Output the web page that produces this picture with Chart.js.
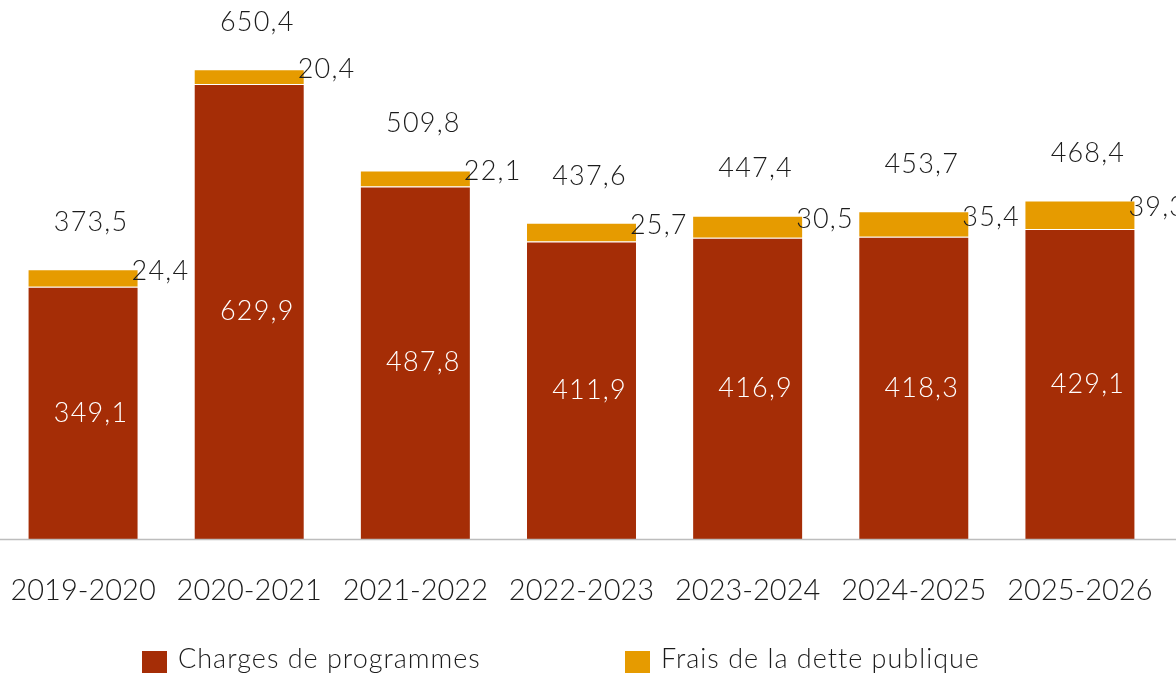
<!DOCTYPE html>
<html lang="fr">
<head>
<meta charset="utf-8">
<title>Charges de programmes et frais de la dette publique</title>
<script src="https://cdn.jsdelivr.net/npm/chart.js@4/dist/chart.umd.min.js"></script>
<style>
  html, body { margin: 0; padding: 0; background: #fff; }
  #wrap { width: 1176px; height: 673px; overflow: hidden; }
</style>
</head>
<body>
<div id="wrap"><canvas id="chart" width="1176" height="673"></canvas></div>
<script>
// data
const annees = ['2019-2020', '2020-2021', '2021-2022', '2022-2023', '2023-2024', '2024-2025', '2025-2026'];
const programmes = [349.1, 629.9, 487.8, 411.9, 416.9, 418.3, 429.1];
const dette = [24.4, 20.4, 22.1, 25.7, 30.5, 35.4, 39.3];
const totaux = [373.5, 650.4, 509.8, 437.6, 447.4, 453.7, 468.4];

const ROUGE = '#a52d06';
const ORANGE = '#e69b00';
const TEXTE = '#1c1c1c';
const FONT = 'Lato, "Open Sans", sans-serif';

const fmt = v => v.toFixed(1).replace('.', ',');

// labels: white in the red bar, debt to the right, total on top
const valueLabels = {
  id: 'valueLabels',
  afterDatasetsDraw(chart) {
    const ctx = chart.ctx;
    const m0 = chart.getDatasetMeta(0);
    const m1 = chart.getDatasetMeta(1);
    ctx.save();
    ctx.font = '300 27px ' + FONT;
    ctx.letterSpacing = '1.2px';
    ctx.textBaseline = 'middle';
    m0.data.forEach((bar, i) => {
      const haut = m1.data[i];
      ctx.fillStyle = '#fff';
      ctx.textAlign = 'center';
      ctx.fillText(fmt(programmes[i]), bar.x + 8, (bar.y + bar.base) / 2);

      ctx.fillStyle = TEXTE;
      ctx.textAlign = 'left';
      ctx.fillText(fmt(dette[i]), haut.x + haut.width / 2 - 7, (haut.y + haut.base) / 2 - 7);

      ctx.textAlign = 'center';
      ctx.fillText(fmt(totaux[i]), haut.x + 8, haut.y - 47);
    });
    ctx.restore();
  },
  afterDraw(chart) {
    const ctx = chart.ctx;
    ctx.save();
    // baseline across the full width
    const y0 = chart.scales.y.getPixelForValue(0);
    ctx.strokeStyle = '#bdbdbd';
    ctx.lineWidth = 1.5;
    ctx.beginPath();
    ctx.moveTo(0, y0 + 0.5);
    ctx.lineTo(chart.width, y0 + 0.5);
    ctx.stroke();

    // legend
    ctx.font = '300 27px ' + FONT;
    ctx.letterSpacing = '1px';
    ctx.textBaseline = 'middle';
    ctx.textAlign = 'left';
    const items = chart.data.datasets.map(d => ({ label: d.label, color: d.backgroundColor }));
    const xs = [142, 625];
    items.forEach((it, i) => {
      ctx.fillStyle = it.color;
      ctx.fillRect(xs[i], 651, 25, 25);
      ctx.fillStyle = TEXTE;
      ctx.fillText(it.label, xs[i] + 36, 659);
    });
    ctx.restore();
  }
};

new Chart(document.getElementById('chart'), {
  type: 'bar',
  data: {
    labels: annees,
    datasets: [
      {
        label: 'Charges de programmes',
        data: programmes,
        backgroundColor: ROUGE,
        borderColor: 'rgba(255,255,255,0.35)',
        borderWidth: 1,
        categoryPercentage: 1,
        barPercentage: 0.668
      },
      {
        label: 'Frais de la dette publique',
        data: dette,
        backgroundColor: ORANGE,
        borderColor: 'rgba(255,255,255,0.35)',
        borderWidth: 1,
        categoryPercentage: 1,
        barPercentage: 0.668
      }
    ]
  },
  options: {
    responsive: false,
    animation: false,
    layout: { padding: { top: 0, left: 0, right: 13, bottom: 0 } },
    plugins: {
      legend: { display: false },
      tooltip: { enabled: false }
    },
    scales: {
      x: {
        stacked: true,
        grid: { display: false },
        border: { display: false },
        ticks: {
          color: TEXTE,
          padding: 26,
          maxRotation: 0,
          autoSkip: false,
          font: { family: FONT, size: 29, weight: 300 }
        },
        afterFit(scale) {
          scale.height = 134;
          scale.paddingLeft = 0;
          scale.paddingRight = 0;
        }
      },
      y: {
        stacked: true,
        display: false,
        min: 0,
        max: 746
      }
    }
  },
  plugins: [valueLabels]
});
</script>
</body>
</html>
